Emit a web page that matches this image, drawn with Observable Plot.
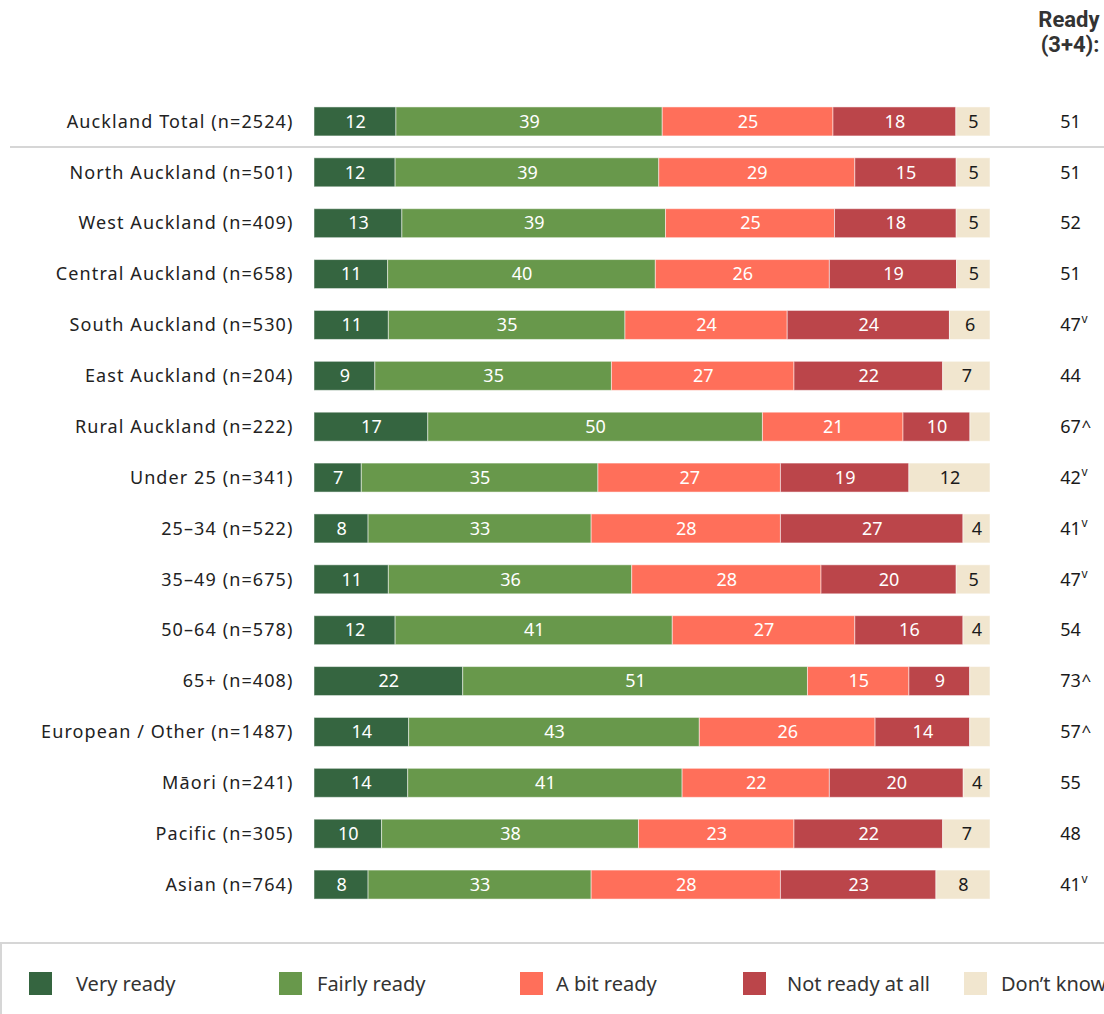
<!DOCTYPE html>
<html>
<head>
<meta charset="utf-8">
<script src="https://cdn.jsdelivr.net/npm/d3@7"></script>
<script src="https://cdn.jsdelivr.net/npm/@observablehq/plot@0.6"></script>
<style>
  html, body { margin: 0; padding: 0; background: #fff; width: 1104px; overflow: hidden; }
  #chart svg { display: block; }
  #chart svg g[aria-label="y-axis tick label"] text { letter-spacing: 1.1px; }
  #legend {
    margin-top: 12px; height: 120px; border: 2px solid #d6d6d6; border-right: none;
    box-sizing: border-box; position: relative; font-family: "Noto Sans", sans-serif;
    font-size: 20px; color: #333;
  }
  .item { position: absolute; top: 26px; display: flex; align-items: center; white-space: nowrap; }
  .sw { width: 23px; height: 23px; flex: none; }
</style>
</head>
<body>
<div id="chart"></div>
<div id="legend"></div>
<script>
const rows = [
  "Auckland Total (n=2524)", "North Auckland (n=501)", "West Auckland (n=409)",
  "Central Auckland (n=658)", "South Auckland (n=530)", "East Auckland (n=204)",
  "Rural Auckland (n=222)", "Under 25 (n=341)", "25–34 (n=522)", "35–49 (n=675)",
  "50–64 (n=578)", "65+ (n=408)", "European / Other (n=1487)", "Māori (n=241)",
  "Pacific (n=305)", "Asian (n=764)"
];
const categories = ["Very ready", "Fairly ready", "A bit ready", "Not ready at all", "Don’t know"];
const colors = ["#356540", "#68984b", "#ff6f5a", "#bb454a", "#f1e6cf"];

const veryReady   = [12, 12, 13, 11, 11,  9, 17,  7,  8, 11, 12, 22, 14, 14, 10,  8];
const fairlyReady = [39, 39, 39, 40, 35, 35, 50, 35, 33, 36, 41, 51, 43, 41, 38, 33];
const aBitReady   = [25, 29, 25, 26, 24, 27, 21, 27, 28, 28, 27, 15, 26, 22, 23, 28];
const notReady    = [18, 15, 18, 19, 24, 22, 10, 19, 27, 20, 16,  9, 14, 20, 22, 23];
const dontKnow    = [ 5,  5,  5,  5,  6,  7,  3, 12,  4,  5,  4,  3,  3,  4,  7,  8];
const readyTotal  = [51, 51, 52, 51, 47, 44, 67, 42, 41, 47, 54, 73, 57, 55, 48, 41];
const sigMarks    = ["", "", "", "", "v", "", "^", "v", "v", "v", "", "^", "^", "", "", "v"];

const series = [veryReady, fairlyReady, aBitReady, notReady, dontKnow];
const data = [];
rows.forEach((r, i) => categories.forEach((c, j) => data.push({row: r, cat: c, value: series[j][i]})));
const totals = rows.map((r, i) => ({row: r, total: readyTotal[i], sig: sigMarks[i]}));

const font = "'Noto Sans', sans-serif";
const stackOpts = (extra) => Plot.stackX({x: "value", y: "row", z: "cat", order: categories, offset: "normalize", ...extra});

const separator = (index, scales) => {
  const s = scales.y;
  const bw = s.bandwidth ? s.bandwidth() : 0;
  const y = ((s(rows[0]) + s(rows[1])) / 2 + bw / 2);
  const g = d3.create("svg:g");
  g.append("line").attr("x1", 10).attr("x2", 1104).attr("y1", y).attr("y2", y)
    .attr("stroke", "#c8c8c8").attr("stroke-width", 1.5);
  return g.node();
};

const chart = Plot.plot({
  width: 1104,
  height: 930,
  marginLeft: 314,
  marginRight: 114,
  marginTop: 96,
  marginBottom: 20,
  style: {fontFamily: font, fontSize: "18px", color: "#222", background: "#fff"},
  x: {domain: [0, 1], axis: null},
  y: {domain: rows, paddingInner: 0.43, paddingOuter: 0.215, round: false, label: null, tickSize: 0, tickPadding: 21},
  color: {domain: categories, range: colors},
  marks: [
    Plot.barX(data, stackOpts({fill: "cat", stroke: "#ffffff", strokeOpacity: 0.5, strokeWidth: 1})),
    Plot.text(data, stackOpts({
      text: d => (d.cat !== "Don’t know" && d.value >= 4) ? String(d.value) : null,
      fill: "#ffffff", fontSize: 18
    })),
    Plot.text(data, stackOpts({
      text: d => (d.cat === "Don’t know" && d.value >= 4) ? String(d.value) : null,
      fill: "#1a1a1a", fontSize: 18
    })),
    Plot.text(totals, {y: "row", text: d => String(d.total), frameAnchor: "right", dx: 80, textAnchor: "middle", fill: "#1a1a1a", fontSize: 18}),
    Plot.text(totals.filter(d => d.sig === "v"), {y: "row", text: "sig", frameAnchor: "right", dx: 91, dy: -6, textAnchor: "start", fill: "#1a1a1a", fontSize: 12}),
    Plot.text(totals.filter(d => d.sig === "^"), {y: "row", text: "sig", frameAnchor: "right", dx: 91, dy: -1, textAnchor: "start", fill: "#1a1a1a", fontSize: 17}),
    Plot.text(["Ready\n(3+4):"], {frameAnchor: "top-right", dx: 109, dy: -87, lineAnchor: "top", textAnchor: "end", lineHeight: 1.14, fontWeight: "bold", fontSize: 22, fill: "#333", fontFamily: "Roboto, sans-serif"}),
    separator
  ]
});
document.getElementById("chart").append(chart);

const legendLeft = [27, 277, 518, 741, 962];
const legendGap = [24, 15, 13, 21, 14];
const legend = document.getElementById("legend");
categories.forEach((c, i) => {
  const it = document.createElement("div");
  it.className = "item";
  it.style.left = legendLeft[i] + "px";
  const sw = document.createElement("div");
  sw.className = "sw";
  sw.style.background = colors[i];
  const lab = document.createElement("span");
  lab.style.marginLeft = legendGap[i] + "px";
  lab.textContent = c;
  it.append(sw, lab);
  legend.append(it);
});
</script>
</body>
</html>
